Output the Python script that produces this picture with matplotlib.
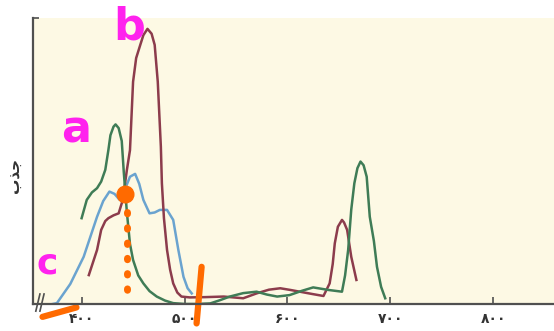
import matplotlib
matplotlib.use('Agg')
import matplotlib.pyplot as plt

# Absorption spectra (wavelength nm, relative absorption 0-100)
blue_x = [372, 376, 389, 402, 415, 421, 427, 432, 437, 442, 447, 452, 456, 460, 466, 471, 476, 483, 489, 494, 499, 503, 507]
blue_y = [0, 0.3, 7, 16.5, 30.5, 36, 39.3, 38.5, 36.4, 40, 44.5, 45.5, 42, 36.4, 31.7, 32, 32.9, 32.9, 29.4, 18.9, 9.5, 5.5, 3.7]

green_x = [400, 405, 410, 415, 419, 423, 426, 428, 431, 433, 436, 439, 441, 444, 447, 450, 455, 460, 466, 473, 481, 489, 500, 512,
           525, 535, 544, 557, 570, 580, 590, 602, 614, 625, 640, 653, 656, 659, 662, 665, 668, 671, 674, 677, 680, 684, 687, 691, 695]
green_y = [30, 36.4, 39, 40.5, 42.8, 46.9, 53.8, 59, 62, 62.8, 61.5, 57, 46, 32, 21, 15.4, 10, 7.2, 4.5, 2.6, 1.2, 0.3, 0, 0,
           0.2, 1.4, 2.6, 3.8, 4.3, 3.3, 2.6, 3.1, 4.6, 5.8, 4.9, 4.3, 10, 18.9, 33, 42.2, 47.5, 49.8, 48.5, 44.5, 30.5, 22, 13, 6, 2]

red_x = [407, 411, 415, 419, 423, 426, 431, 436, 440, 444, 447, 450, 453, 457, 460, 464, 468, 471, 474, 477, 478, 480, 483, 486,
         489, 493, 497, 505, 520, 538, 557, 570, 582, 593, 603, 612, 624, 635, 641, 644, 646, 649, 653, 655, 658, 662, 667]
red_y = [10.1, 14.5, 18.9, 25.9, 29, 30, 31, 31.7, 36.4, 46.9, 53.8, 77.7, 86, 90.6, 94, 96.2, 94.5, 90.6, 77.7, 55, 42.2, 30, 18.9, 12,
         7.2, 4, 2.6, 2.3, 2.4, 2.6, 2, 3.7, 5, 5.5, 4.9, 4.3, 3.5, 2.8, 7.2, 14, 21.2, 27, 29.4, 28.5, 25.9, 16.5, 8.4]

tick_pos = [400, 500, 600, 700, 800]
tick_labels = ['۴۰۰', '۵۰۰', '۶۰۰', '۷۰۰', '۸۰۰']

fig = plt.figure(figsize=(5.54, 3.31), dpi=100)
ax = fig.add_axes([0.060, 0.0816, 0.940, 0.864])
ax.set_facecolor('#fdf9e4')
ax.set_xlim(353, 859)
ax.set_ylim(0, 100)

ax.plot(blue_x, blue_y, color='#6aa3cf', lw=1.8, solid_joinstyle='round')
ax.plot(red_x, red_y, color='#8c3c4c', lw=1.8, solid_joinstyle='round')
ax.plot(green_x, green_y, color='#3f7c56', lw=1.8, solid_joinstyle='round')

# axes look
for s in ['top', 'right']:
    ax.spines[s].set_visible(False)
for s in ['left', 'bottom']:
    ax.spines[s].set_color('#505050')
    ax.spines[s].set_linewidth(1.6)
ax.set_xticks(tick_pos)
ax.set_xticklabels(tick_labels, fontsize=10, fontweight='bold', color='#333333')
ax.tick_params(axis='x', direction='in', length=5, width=1.2, color='#505050', pad=6)
ax.set_yticks([100])
ax.set_yticklabels([''])
ax.tick_params(axis='y', direction='in', length=4, width=1.2, color='#505050')
fig.text(0.028, 0.47, 'ﺏﺬﺟ', rotation=90, fontsize=11, fontweight='bold', color='#333333',
         ha='center', va='center', family='DejaVu Sans')

# axis break marks
ax.plot([355.5, 359.5], [-2.5, 3.5], color='#505050', lw=1.2, clip_on=False)
ax.plot([359.5, 363.5], [-2.5, 3.5], color='#505050', lw=1.2, clip_on=False)

# hand-drawn annotations
ax.text(446, 97, 'b', color='#ff22ee', fontsize=32, fontweight='bold', ha='center', va='center')
ax.text(395, 61, 'a', color='#ff22ee', fontsize=32, fontweight='bold', ha='center', va='center')
ax.text(367, 14, 'c', color='#ff22ee', fontsize=26, fontweight='bold', ha='center', va='center')

ax.plot([442], [38.5], 'o', color='#ff6a00', ms=12, clip_on=False)
ax.plot([444, 444], [32, 1.5], color='#ff6a00', lw=5, ls=(0, (0.2, 2.0)),
        dash_capstyle='round')
ax.plot([516.6, 511.7], [13, -6.8], color='#ff6a00', lw=4.5, solid_capstyle='round', clip_on=False)
ax.plot([362, 395], [-4.5, -1.2], color='#ff6a00', lw=4.5, solid_capstyle='round', clip_on=False)

fig.savefig('out.png', dpi=100)
